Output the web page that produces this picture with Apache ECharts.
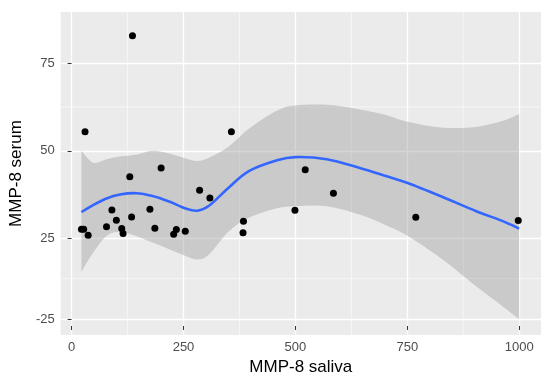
<!DOCTYPE html>
<html>
<head>
<meta charset="utf-8">
<script src="https://cdn.jsdelivr.net/npm/echarts@6/dist/echarts.min.js"></script>
<style>
html,body{margin:0;padding:0;background:#fff;}
#chart{width:550px;height:381px;}
</style>
</head>
<body>
<div id="chart"></div>
<script>
// Observed points (MMP-8 saliva, MMP-8 serum)
var salivaValues = [22, 27, 37, 30, 78, 90, 100, 112, 115, 134, 130, 136, 175, 186, 200, 228, 234, 254, 286, 309, 357, 384, 383, 499, 522, 585, 769, 998];
var serumValues  = [27.6, 27.6, 25.9, 55.4, 28.3, 33.1, 30.2, 27.8, 26.4, 31.1, 42.6, 82.8, 33.3, 27.9, 45.1, 26.2, 27.5, 27.0, 38.7, 36.5, 55.4, 29.9, 26.6, 33.0, 44.6, 37.9, 31.0, 30.1];

// Loess smooth and its confidence band
var smoothX    = [22, 48, 78, 108, 144, 181, 218, 255, 281, 307, 352, 396, 459, 500, 570, 644, 700, 751, 829, 903, 962, 1000];
var smoothY    = [32.5, 34.5, 36.4, 37.5, 37.9, 37.1, 35.5, 33.5, 32.9, 34.3, 39.6, 44.2, 47.3, 48.2, 47.6, 45.1, 42.9, 40.8, 36.8, 32.8, 30.0, 27.8];
var bandUpper  = [50.0, 46.6, 47.6, 48.4, 48.9, 50.0, 49.2, 47.8, 47.1, 48.0, 51.3, 56.3, 61.5, 62.9, 63.1, 61.8, 60.3, 58.3, 56.6, 56.8, 58.5, 60.5];
var bandLower  = [15.5, 20.9, 25.7, 26.8, 25.7, 23.8, 21.9, 20.0, 19.0, 20.4, 27.1, 30.9, 33.6, 34.2, 34.2, 31.8, 28.9, 25.7, 19.0, 11.4, 5.7, 1.9];

// Axis ticks
var xTickValues = [0, 250, 500, 750, 1000];
var xTickLabels = ['0', '250', '500', '750', '1000'];
var xMinorValues = [125, 375, 625, 875];
var yTickValues = [2, 25, 50, 75];
var yTickLabels = ['-25', '25', '50', '75'];
var yMinorValues = [13.5, 62.5];

var X_MIN = -24.4, X_MAX = 1048.8, Y_MIN = -2.6, Y_MAX = 89.6;

var points = salivaValues.map(function (x, i) { return [x, serumValues[i]]; });

// Catmull-Rom spline through pixel points -> SVG path commands
function splinePath(pts, moveFirst) {
  var d = moveFirst ? 'M' + pts[0][0] + ' ' + pts[0][1] : 'L' + pts[0][0] + ' ' + pts[0][1];
  for (var i = 0; i < pts.length - 1; i++) {
    var p0 = pts[i - 1] || pts[i], p1 = pts[i], p2 = pts[i + 1], p3 = pts[i + 2] || pts[i + 1];
    var c1x = p1[0] + (p2[0] - p0[0]) / 6, c1y = p1[1] + (p2[1] - p0[1]) / 6;
    var c2x = p2[0] - (p3[0] - p1[0]) / 6, c2y = p2[1] - (p3[1] - p1[1]) / 6;
    d += ' C' + c1x + ' ' + c1y + ' ' + c2x + ' ' + c2y + ' ' + p2[0] + ' ' + p2[1];
  }
  return d;
}

var chart = echarts.init(document.getElementById('chart'), null, {renderer: 'canvas'});
chart.setOption({
  backgroundColor: '#ffffff',
  animation: false,
  grid: {left: 57, right: 9, top: 12, bottom: 45, show: true, backgroundColor: '#ebebeb', borderWidth: 0},
  xAxis: {
    type: 'value', min: X_MIN, max: X_MAX,
    name: 'MMP-8 saliva', nameLocation: 'middle', nameGap: 22,
    nameTextStyle: {fontFamily: 'Liberation Sans, Arial', fontSize: 17, color: '#000'},
    axisLine: {show: false},
    axisTick: {show: true, length: 4, customValues: xTickValues, lineStyle: {color: '#333', width: 1}},
    axisLabel: {customValues: xTickValues, margin: 6, fontFamily: 'Liberation Sans, Arial', fontSize: 13, color: '#4d4d4d',
      formatter: function (v) { var i = xTickValues.indexOf(v); return i >= 0 ? xTickLabels[i] : ''; }},
    splitLine: {show: true, lineStyle: {color: '#ffffff', width: 1.3}}
  },
  yAxis: {
    type: 'value', min: Y_MIN, max: Y_MAX,
    name: 'MMP-8 serum', nameLocation: 'middle', nameGap: 31, nameRotate: 90,
    nameTextStyle: {fontFamily: 'Liberation Sans, Arial', fontSize: 17, color: '#000'},
    axisLine: {show: false},
    axisTick: {show: true, length: 4, customValues: yTickValues, lineStyle: {color: '#333', width: 1}},
    axisLabel: {customValues: yTickValues, margin: 6, fontFamily: 'Liberation Sans, Arial', fontSize: 13, color: '#4d4d4d',
      formatter: function (v) { var i = yTickValues.indexOf(v); return i >= 0 ? yTickLabels[i] : ''; }},
    splitLine: {show: true, lineStyle: {color: '#ffffff', width: 1.3}}
  },
  series: [{
    // minor grid lines
    type: 'custom', name: 'minorGrid', data: [0], silent: true, z: 1,
    renderItem: function (params, api) {
      var children = [];
      xMinorValues.forEach(function (v) {
        var a = api.coord([v, Y_MIN]), b = api.coord([v, Y_MAX]);
        children.push({type: 'line', shape: {x1: a[0], y1: a[1], x2: b[0], y2: b[1]}, style: {stroke: '#ffffff', lineWidth: 0.6}});
      });
      yMinorValues.forEach(function (v) {
        var a = api.coord([X_MIN, v]), b = api.coord([X_MAX, v]);
        children.push({type: 'line', shape: {x1: a[0], y1: a[1], x2: b[0], y2: b[1]}, style: {stroke: '#ffffff', lineWidth: 0.6}});
      });
      return {type: 'group', children: children};
    }
  }, {
    // confidence band
    type: 'custom', name: 'band', data: [0], silent: true, z: 2,
    renderItem: function (params, api) {
      var up = smoothX.map(function (x, i) { return api.coord([x, bandUpper[i]]); });
      var lo = smoothX.map(function (x, i) { return api.coord([x, bandLower[i]]); }).reverse();
      var d = splinePath(up, true) + ' ' + splinePath(lo, false) + ' Z';
      return {type: 'path', shape: {pathData: d}, style: {fill: 'rgba(153,153,153,0.4)', stroke: null}};
    }
  }, {
    type: 'scatter', name: 'points', data: points, symbolSize: 7,
    itemStyle: {color: '#000000', opacity: 1}, z: 3
  }, {
    // loess line
    type: 'custom', name: 'loess', data: [0], silent: true, z: 4,
    renderItem: function (params, api) {
      var pts = smoothX.map(function (x, i) { return api.coord([x, smoothY[i]]); });
      return {type: 'path', shape: {pathData: splinePath(pts, true)}, style: {fill: null, stroke: '#3366FF', lineWidth: 2.6}};
    }
  }]
});
</script>
</body>
</html>
